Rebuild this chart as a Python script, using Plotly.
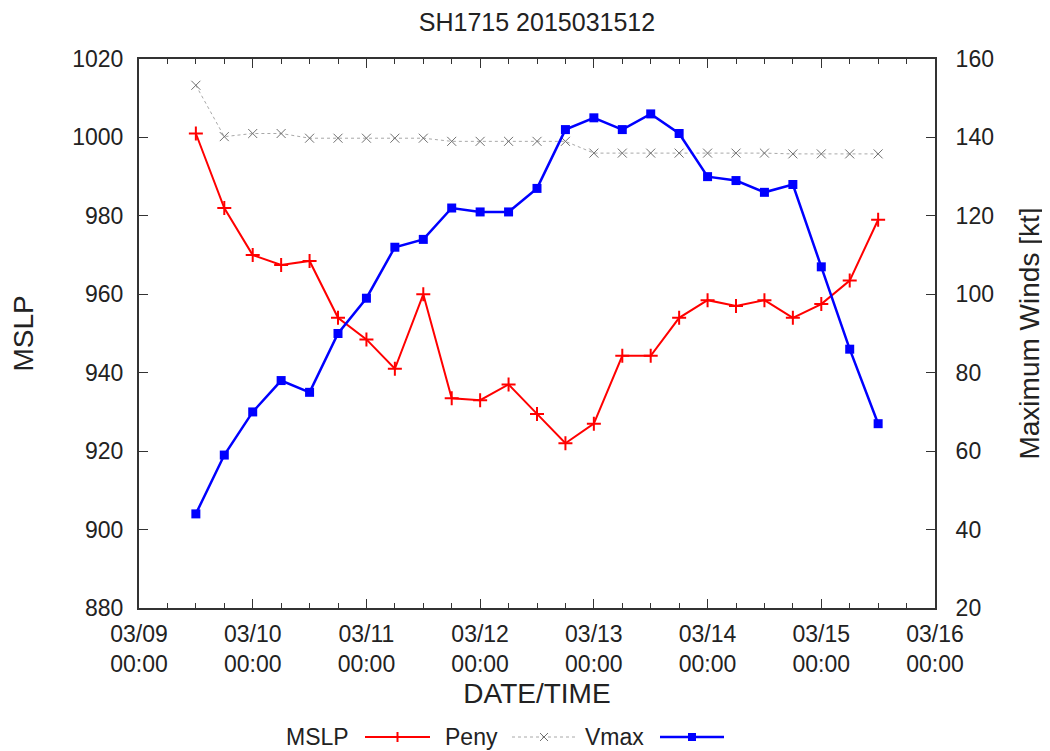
import plotly.graph_objects as go
import pandas as pd

title = "SH1715 2015031512"
times = list(pd.date_range("2015-03-09 12:00", "2015-03-15 12:00", freq="6h"))
mslp = [1001, 982, 970, 967.5, 968.5, 954, 948.5, 941, 960, 933.5, 933, 937,
        929.5, 922, 927, 944.3, 944.3, 954, 958.5, 957, 958.5, 954, 957.5, 963.5, 979]
peny = [1013.3, 1000.2, 1001, 1001, 999.8, 999.8, 999.8, 999.8, 999.8, 999, 999, 999,
        999, 999, 996, 996, 996, 996, 996, 996, 996, 995.8, 995.8, 995.8, 995.8]
vmax = [44, 59, 70, 78, 75, 90, 99, 112, 114, 122, 121, 121, 127, 142, 145, 142,
        146, 141, 130, 129, 126, 128, 107, 86, 67]
x_ticks = list(pd.date_range("2015-03-09", "2015-03-16", freq="D"))

FONT = "Liberation Sans"
FS = 23
# page has an 8px body margin; work in figure coordinates
OFF = 8
W, H = 1050 - OFF, 751 - OFF
L, R, T, B = 139 - OFF, 935 - OFF, 59 - OFF, 608 - OFF

fig = go.Figure()
fig.add_trace(go.Scatter(x=times, y=mslp, name="MSLP", mode="lines+markers",
                         line=dict(color="#ff0000", width=2),
                         marker=dict(symbol="cross-thin", size=10,
                                     line=dict(color="#ff0000", width=2)),
                         yaxis="y"))
fig.add_trace(go.Scatter(x=times, y=peny, name="Peny", mode="lines+markers",
                         line=dict(color="#a8a8a8", width=1, dash="dot"),
                         marker=dict(symbol="x-thin", size=9,
                                     line=dict(color="#707070", width=1)),
                         yaxis="y"))
fig.add_trace(go.Scatter(x=times, y=vmax, name="Vmax", mode="lines+markers",
                         line=dict(color="#0000ff", width=2.5),
                         marker=dict(symbol="square", size=9, color="#0000ff"),
                         yaxis="y2"))

tick_text = [t.strftime("%m/%d") + "<br>" + t.strftime("%H:%M") for t in x_ticks]

fig.update_layout(
    width=W, height=H,
    margin=dict(l=L, r=W - R, t=T, b=H - B, autoexpand=False),
    paper_bgcolor="white", plot_bgcolor="white",
    showlegend=False,
    font=dict(family=FONT, size=FS, color="#222222"),
    title=dict(text=title, x=(L + R) / 2 / W, xanchor="center", y=1 - 14 / H,
               yanchor="middle", font=dict(size=25)),
    xaxis=dict(type="date", range=[x_ticks[0], x_ticks[-1]],
               tickvals=x_ticks, ticktext=tick_text,
               ticks="inside", ticklen=9, tickwidth=1, tickcolor="#333",
               minor=dict(dtick=6 * 3600 * 1000, ticks="inside", ticklen=5,
                          tickcolor="#333", showgrid=False),
               showline=True, linecolor="#333", linewidth=2, mirror="ticks",
               showgrid=False, zeroline=False, ticklabelstandoff=4,
               title=dict(text="DATE/TIME", standoff=8)),
    yaxis=dict(range=[880, 1020], dtick=20, ticks="inside", ticklen=9,
               tickcolor="#333", showline=True, linecolor="#333", linewidth=2,
               showgrid=False, zeroline=False, ticklabelstandoff=9,
               title=dict(text="MSLP", standoff=42)),
    yaxis2=dict(range=[20, 160], dtick=20, overlaying="y", side="right",
                ticks="inside", ticklen=9, tickcolor="#333", showline=True,
                linecolor="#333", linewidth=2, showgrid=False, zeroline=False,
                ticklabelstandoff=14,
                title=dict(text="Maximum Winds [kt]", standoff=26)),
)

# manual gnuplot-style legend (label left of sample)
def px(x):
    return (x - OFF - L) / (R - L)

def py(y):
    return (B - (y - OFF)) / (B - T)

ly = 737
entries = [("MSLP", 351, 365, 430, "#ff0000", "solid", 2, "plus"),
           ("Peny", 500, 512, 576, "#a8a8a8", "dot", 1, "x"),
           ("Vmax", 646, 660, 724, "#0000ff", "solid", 2.5, "square")]
shapes = []
annotations = []
for name, tx, x0, x1, col, dash, w, mk in entries:
    annotations.append(dict(text=name, x=px(tx), y=py(ly), xref="paper", yref="paper",
                            xanchor="right", yanchor="middle", showarrow=False,
                            font=dict(size=FS)))
    shapes.append(dict(type="line", xref="paper", yref="paper", x0=px(x0), x1=px(x1),
                       y0=py(ly), y1=py(ly), line=dict(color=col, width=w, dash=dash)))
    cx = (x0 + x1) / 2
    if mk == "plus":
        shapes.append(dict(type="line", xref="paper", yref="paper", x0=px(cx), x1=px(cx),
                           y0=py(ly - 5), y1=py(ly + 5), line=dict(color=col, width=2)))
    elif mk == "x":
        shapes.append(dict(type="line", xref="paper", yref="paper", x0=px(cx - 4), x1=px(cx + 4),
                           y0=py(ly - 4), y1=py(ly + 4), line=dict(color="#707070", width=1)))
        shapes.append(dict(type="line", xref="paper", yref="paper", x0=px(cx - 4), x1=px(cx + 4),
                           y0=py(ly + 4), y1=py(ly - 4), line=dict(color="#707070", width=1)))
    else:
        shapes.append(dict(type="rect", xref="paper", yref="paper", x0=px(cx - 4), x1=px(cx + 4),
                           y0=py(ly - 4), y1=py(ly + 4), fillcolor=col, line=dict(width=0)))
fig.update_layout(shapes=shapes, annotations=annotations)

fig.write_html("out.html")
